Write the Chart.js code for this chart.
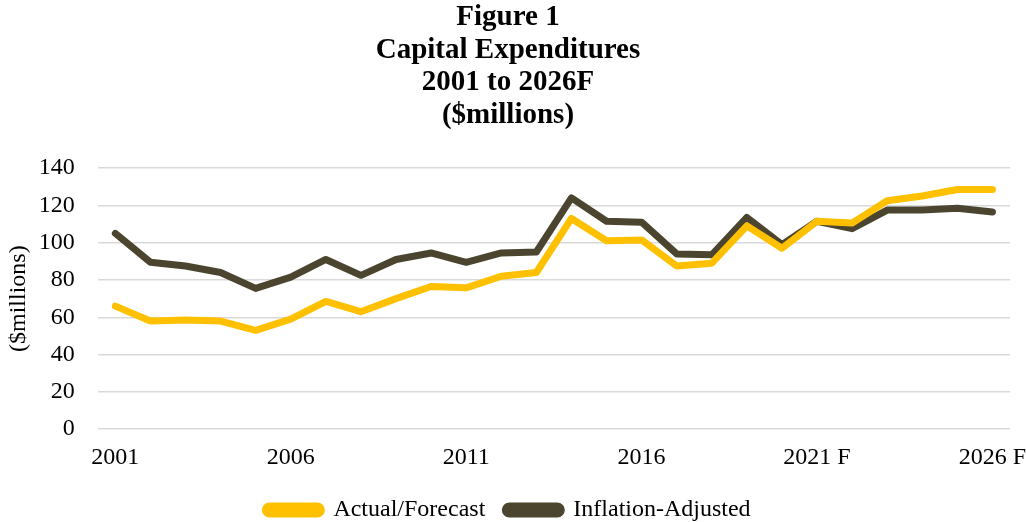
<!DOCTYPE html>
<html>
<head>
<meta charset="utf-8">
<script src="https://cdn.jsdelivr.net/npm/chart.js@4/dist/chart.umd.min.js"></script>
<style>
  body { margin: 0; background: #fff; }
  #wrap { width: 1026px; height: 522px; position: relative; }
</style>
</head>
<body>
<div id="wrap"><canvas id="capexChart"></canvas></div>
<script>
const years = ['2001', '2002', '2003', '2004', '2005', '2006', '2007', '2008', '2009', '2010',
    '2011', '2012', '2013', '2014', '2015', '2016', '2017', '2018', '2019', '2020',
    '2021 F', '2022 F', '2023 F', '2024 F', '2025 F', '2026 F'];
const actualForecast = [66, 58, 58.5, 58, 53, 59, 68.5, 63, 70, 76.5,
    75.8, 82, 84, 113, 101, 101.5, 87.5, 89, 109, 97,
    111.5, 110.5, 122.5, 125, 128.5, 128.5];
const inflationAdjusted = [105, 89.5, 87.5, 84, 75.5, 81.5, 91, 82.5, 91, 94.5,
    89.5, 94.5, 95, 124, 111.5, 111, 94, 93.5, 113.5, 99,
    111.5, 107.5, 117.5, 117.5, 118.5, 116.5];
const yTicks = [0, 20, 40, 60, 80, 100, 120, 140];

const serif = "'Liberation Serif', 'Times New Roman', serif";

new Chart(document.getElementById('capexChart').getContext('2d'), {
    type: 'line',
    data: {
        labels: years,
        datasets: [{
            label: 'Actual/Forecast',
            data: actualForecast,
            borderColor: '#ffc000',
            backgroundColor: '#ffc000',
            borderWidth: 7,
            pointRadius: 0,
            tension: 0,
            borderCapStyle: 'round',
            borderJoinStyle: 'round'
        }, {
            label: 'Inflation-Adjusted',
            data: inflationAdjusted,
            borderColor: '#4b4530',
            backgroundColor: '#4b4530',
            borderWidth: 7,
            pointRadius: 0,
            tension: 0,
            borderCapStyle: 'round',
            borderJoinStyle: 'round'
        }]
    },
    options: {
        responsive: true,
        maintainAspectRatio: false,
        animation: false,
        layout: { padding: { left: -17, right: -7, top: 0, bottom: -10 } },
        plugins: {
            title: {
                display: true,
                text: ['Figure 1', 'Capital Expenditures', '2001 to 2026F', '($millions)'],
                color: '#000',
                font: { family: serif, size: 29, weight: 'bold', lineHeight: 1.13 },
                padding: { top: 1, bottom: 36 }
            },
            legend: {
                position: 'bottom',
                labels: {
                    color: '#000',
                    font: { family: serif, size: 24 },
                    boxWidth: 56,
                    boxHeight: 8,
                    useBorderRadius: true,
                    borderRadius: 4,
                    padding: 20
                }
            },
            tooltip: { enabled: false }
        },
        scales: {
            x: {
                offset: true,
                grid: { display: false },
                border: { display: false },
                // keep the plot wide; the last label fits inside the window
                afterFit: scale => { scale.paddingRight = 16; },
                ticks: {
                    color: '#000',
                    font: { family: serif, size: 24 },
                    autoSkip: false,
                    maxRotation: 0,
                    padding: 6,
                    callback: (v, i) => (i % 5 === 0 ? years[i] : '')
                }
            },
            y: {
                min: 0,
                max: 140,
                afterBuildTicks: axis => { axis.ticks = yTicks.map(v => ({ value: v })); },
                grid: { color: '#d9d9d9', lineWidth: 1.5, drawTicks: false },
                border: { display: false },
                ticks: {
                    color: '#000',
                    font: { family: serif, size: 24 },
                    padding: 23
                },
                title: {
                    display: true,
                    text: '($millions)',
                    color: '#000',
                    font: { family: serif, size: 24 },
                    padding: { top: 21, bottom: -17 }
                }
            }
        }
    }
});
</script>
</body>
</html>
